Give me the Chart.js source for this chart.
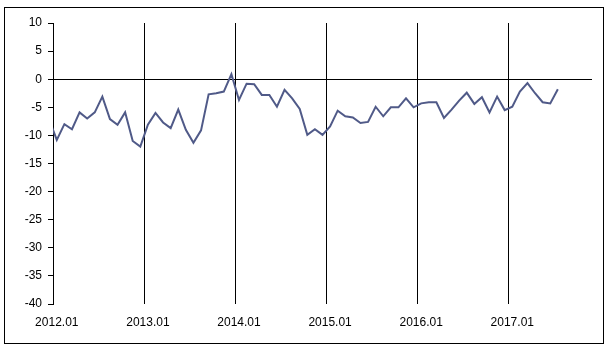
<!DOCTYPE html>
<html>
<head>
<meta charset="utf-8">
<script src="https://cdn.jsdelivr.net/npm/chart.js@4"></script>
<style>
  html, body { margin: 0; padding: 0; background: #fff; }
  #wrap { position: relative; width: 610px; height: 351px; }
</style>
</head>
<body>
<div id="wrap"><canvas id="c" width="610" height="351"></canvas></div>
<script>
// Category axis: months from 2011.12 (only partly visible at the left edge) to 2017.11
const startLabel = '2011.12';
const years = [2012, 2013, 2014, 2015, 2016, 2017];
const firstVisible = '2012.01';
const lastVisible = '2017.11';

// Series values, one per month starting at 2011.12
const values2011 = [-7.2];
const values2012 = [-10.8, -8.0, -8.9, -5.9, -7.0, -5.9, -3.1, -7.1, -8.1, -5.9, -11.0, -12.0];
const values2013 = [-8.1, -6.0, -7.7, -8.7, -5.4, -9.0, -11.3, -9.1, -2.7, -2.5, -2.2, 0.9];
const values2014 = [-3.7, -0.8, -0.9, -2.8, -2.8, -4.9, -1.9, -3.4, -5.3, -9.9, -8.9, -9.9];
const values2015 = [-8.4, -5.6, -6.6, -6.8, -7.8, -7.6, -4.9, -6.6, -5.0, -5.0, -3.4, -5.0];
const values2016 = [-4.3, -4.1, -4.1, -6.9, -5.4, -3.8, -2.4, -4.4, -3.2, -5.9, -3.1, -5.5];
const values2017 = [-4.9, -2.2, -0.7, -2.5, -4.1, -4.3, -1.8];

// y axis ticks
const yMin = -40, yMax = 10, yStep = 5;

const monthLabels = [startLabel];
years.forEach(y => {
  for (let m = 1; m <= 12; m++) monthLabels.push(y + '.' + String(m).padStart(2, '0'));
});
const series = [].concat(values2011, values2012, values2013, values2014, values2015, values2016, values2017);

const framePlugin = {
  id: 'frame',
  beforeDraw(chart) {
    const ctx = chart.ctx;
    ctx.save();
    ctx.fillStyle = '#ffffff';
    ctx.fillRect(0, 0, chart.width, chart.height);
    ctx.strokeStyle = '#000000';
    ctx.lineWidth = 1;
    ctx.strokeRect(4.5, 7.5, 599, 336);
    ctx.restore();
  }
};

const FONT = { family: '"Liberation Sans", Arial, sans-serif', size: 12 };

new Chart(document.getElementById('c'), {
  type: 'line',
  data: {
    labels: monthLabels,
    datasets: [{
      data: series,
      borderColor: '#505a88',
      borderWidth: 2,
      pointRadius: 0,
      tension: 0,
      fill: false
    }]
  },
  options: {
    responsive: false,
    animation: false,
    devicePixelRatio: 1,
    layout: { padding: { left: 0, top: 23, right: 18, bottom: 0 } },
    plugins: {
      legend: { display: false },
      tooltip: { enabled: false }
    },
    scales: {
      x: {
        type: 'category',
        min: firstVisible,
        max: lastVisible,
        offset: true,
        border: { display: false },
        grid: {
          offset: true,
          drawTicks: false,
          lineWidth: 1,
          color: (ctx) => {
            if (!ctx.tick) return 'rgba(0,0,0,0)';
            const lab = monthLabels[ctx.tick.value];
            return lab && lab.endsWith('.01') ? '#000000' : 'rgba(0,0,0,0)';
          }
        },
        ticks: {
          autoSkip: false,
          maxRotation: 0,
          minRotation: 0,
          padding: 11,
          color: '#000000',
          font: FONT,
          callback: function (val) {
            const lab = this.getLabelForValue(val);
            return lab.endsWith('.01') ? lab : '';
          }
        },
        afterFit: (s) => { s.height = 47; }
      },
      y: {
        min: yMin,
        max: yMax,
        border: { display: true, color: '#000000', width: 1 },
        grid: {
          drawTicks: true,
          tickLength: 5,
          tickColor: '#000000',
          color: (ctx) => (ctx.tick && ctx.tick.value === 0) ? '#000000' : 'rgba(0,0,0,0)'
        },
        ticks: {
          stepSize: yStep,
          padding: 6,
          color: '#000000',
          font: FONT
        },
        afterFit: (s) => { s.width = 53; }
      }
    }
  },
  plugins: [framePlugin]
});
</script>
</body>
</html>
